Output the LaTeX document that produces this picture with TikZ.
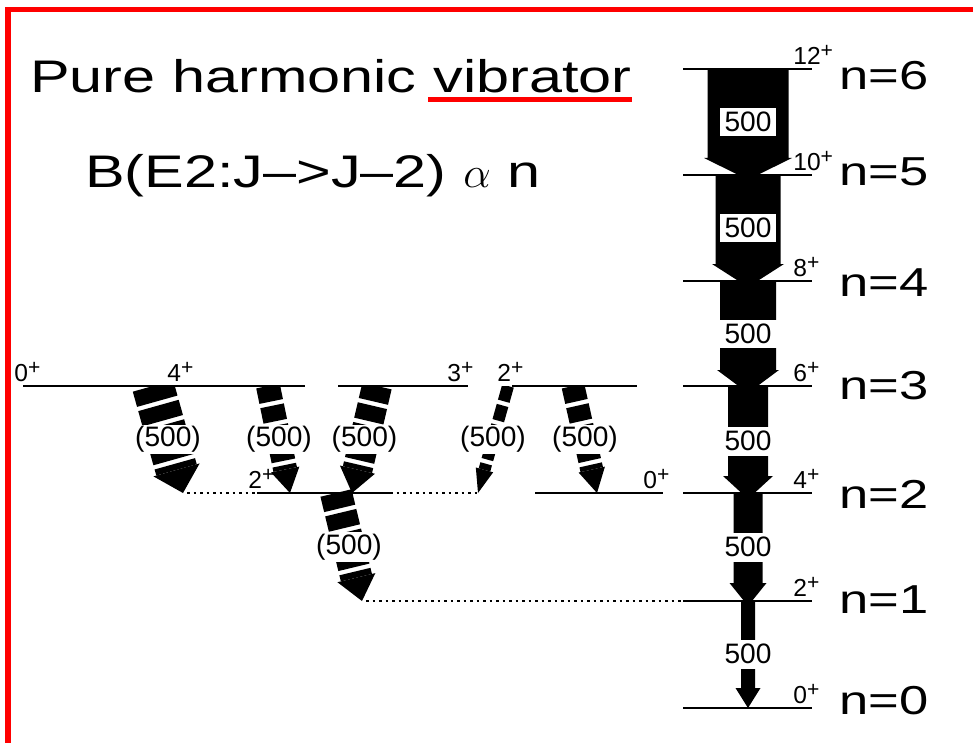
\documentclass[tikz,border=0pt]{standalone}
\usepackage{fontspec}
\setmainfont{Liberation Sans}[FakeStretch=1.3]
\newfontfamily\numfont{Liberation Sans}
\usetikzlibrary{calc}

% spin label with a plain raised plus
\newcommand\spin[1]{#1\raisebox{0.55ex}{\fontsize{12}{12}\selectfont+}}
% dashed transition (from, to, body width, head width, label name), widths in px
\newcommand\dashtrans[5]{%
  \pgfmathsetmacro\bw{#3*0.02}%
  \pgfmathsetmacro\hw{#4*0.01}%
  \coordinate (#5hb) at ($(#2)!0.48cm!(#1)$);
  \draw[transbody, line width=\bw cm] (#1) -- (#5hb);
  \fill ($(#5hb)!\hw cm!90:(#2)$) -- (#2) -- ($(#5hb)!\hw cm!-90:(#2)$) -- cycle;
  \node[translab] (#5) at ($(#1)!0.5!(#2)$) {(500)};
}
% solid band (top, bottom, body w, head length, head w, tip w), in px
\newcommand\bandarrow[6]{%
  \fill ($(#1)+(-#3/2,0)$) -- ($(#1)+(#3/2,0)$) -- ($(#2)+(#3/2,-#4)$)
    -- ($(#2)+(#5/2,-#4)$) -- ($(#2)+(#6/2,0)$) -- ($(#2)+(-#6/2,0)$)
    -- ($(#2)+(-#5/2,-#4)$) -- ($(#2)+(-#3/2,-#4)$) -- cycle;
}

\begin{document}
\begin{tikzpicture}[x=0.02cm, y=-0.02cm,
  lvl/.style={line width=1.3pt},
  dotlink/.style={line width=0.9pt, dash pattern=on 1.5pt off 2.2pt},
  spinlab/.style={font=\numfont\fontsize{14}{14}\selectfont, anchor=south west, inner sep=0pt},
  nlab/.style={font=\fontsize{23}{23}\selectfont, anchor=west, inner sep=0pt},
  ttlfont/.style={font=\fontsize{26}{30}\selectfont, anchor=base west, inner sep=0pt},
  boxlab/.style={font=\numfont\fontsize{16}{16}\selectfont, fill=white, inner sep=0pt,
    minimum width=1.12cm, minimum height=0.58cm},
  gaplab/.style={boxlab, minimum width=1.3cm},
  translab/.style={font=\numfont\fontsize{16}{16}\selectfont, fill=white, inner sep=1pt},
  transbody/.style={dash pattern=on 9pt off 2.5pt}]
  \useasboundingbox (0,0) rectangle (973,743);

  % ----- frame -----
  \draw[red, line width=0.11cm] (8,743) -- (8,9.5) -- (973,9.5);

  % ----- title -----
  \node[ttlfont] (ttl) at (30,93) {Pure harmonic};
  \node[ttlfont, xshift=9.4pt] (vib) at (ttl.base east) {vibrator};
  \draw[red, line width=0.1cm] ($(vib.base west)+(-5,7)$) -- ($(vib.base east)+(0,7)$);
  \node[ttlfont] (be2) at (85,188) {B(E2:J–>J–2) $\alpha$ n};

  % ----- ground band, n=0..6 -----
  \foreach \y/\n/\J/\ny in {69/6/12/76, 175/5/10/172, 281/4/8/283, 386/3/6/386,
                            493/2/4/494, 601/1/2/600, 708/0/0/701} {
    \draw[lvl] (683,\y) -- (812,\y);
    \coordinate (r\n) at (748,\y);
    \node[spinlab] (j\n) at (793,\y-4) {\spin{\J}};
    \node[nlab] (n\n) at (839,\ny) {n=\n};
  }
  \bandarrow{r6}{r5}{81}{17}{88}{19}
  \bandarrow{r5}{r4}{65}{17}{72}{19}
  \bandarrow{r4}{r3}{56}{16}{62}{19}
  \bandarrow{r3}{r2}{40}{17}{50}{13}
  \bandarrow{r2}{r1}{29}{18}{37}{8}
  \bandarrow{r1}{r0}{14}{20}{25}{0}
  \node[boxlab] (e65) at (748,122) {500};
  \node[boxlab] (e54) at (748,228) {500};
  \node[gaplab] (e43) at (748,334) {500};
  \node[gaplab] (e32) at (748,441) {500};
  \node[gaplab] (e21) at (748,547) {500};
  \node[gaplab] (e10) at (748,654) {500};

  % ----- n=3 and n=2 multiplets -----
  \draw[lvl] (23,386) -- (305,386);
  \draw[lvl] (338,386) -- (468,386);
  \draw[lvl] (512,386) -- (637,386);
  \draw[lvl] (257,493) -- (390,493);
  \draw[lvl] (535,493) -- (663,493);
  \draw[dotlink] (187,493) -- (257,493);
  \draw[dotlink] (390,493) -- (478,493);
  \draw[dotlink] (366,601) -- (683,601);
  \node[spinlab] (j3a) at (14,382) {\spin{0}};
  \node[spinlab] (j3b) at (167,382) {\spin{4}};
  \node[spinlab] (j3c) at (447,382) {\spin{3}};
  \node[spinlab] (j3d) at (497,382) {\spin{2}};
  \node[spinlab] (j2a) at (248,489) {\spin{2}};
  \node[spinlab] (j2b) at (643,489) {\spin{0}};

  \coordinate (s4) at (153,386);  \coordinate (t4) at (183,493);
  \coordinate (s3a) at (268,386); \coordinate (t3a) at (290,493);
  \coordinate (s3b) at (377,386); \coordinate (t3b) at (352,493);
  \coordinate (s3c) at (508,386); \coordinate (t3c) at (478,493);
  \coordinate (s3d) at (573,386); \coordinate (t3d) at (597,493);
  \coordinate (s2) at (336,493);  \coordinate (t2) at (362,601);
  \begin{scope}
    \clip (0,386) rectangle (680,743);
    \dashtrans{s4}{t4}{42}{48}{d4}
    \dashtrans{s3a}{t3a}{24}{29}{d3a}
    \dashtrans{s3b}{t3b}{30}{36}{d3b}
    \dashtrans{s3c}{t3c}{12}{18}{d3c}
    \dashtrans{s3d}{t3d}{23}{27}{d3d}
    \dashtrans{s2}{t2}{32}{39}{d2}
  \end{scope}
\end{tikzpicture}
\end{document}
